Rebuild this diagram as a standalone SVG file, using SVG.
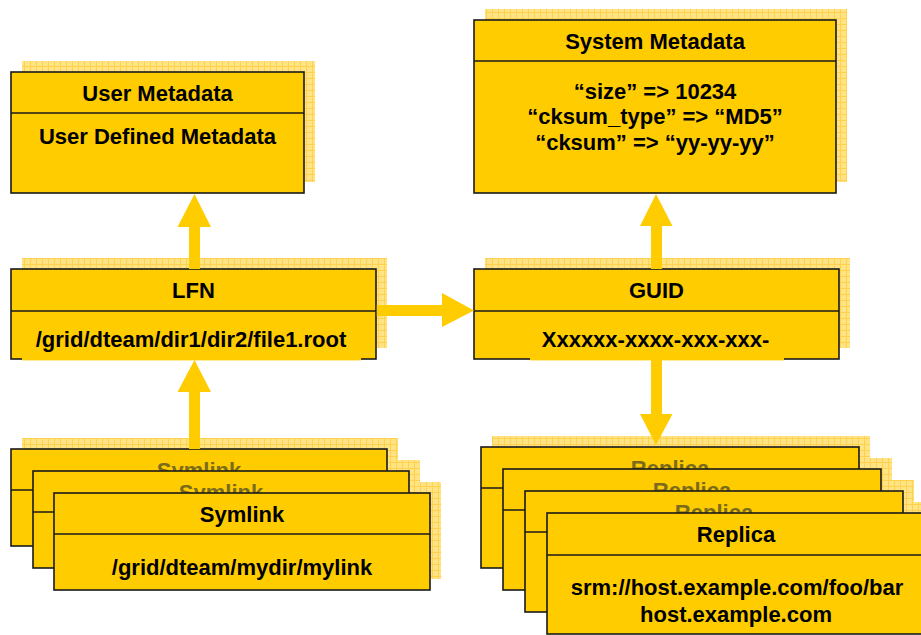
<svg xmlns="http://www.w3.org/2000/svg" width="921" height="635" viewBox="0 0 921 635">
<defs>
<pattern id="grid" width="6" height="6" patternUnits="userSpaceOnUse">
<rect width="6" height="6" fill="#FFE385"/>
<path d="M0 0.5H6M0.5 0V6" stroke="#FFD24D" stroke-width="1" fill="none"/>
</pattern>
<style>
.box{fill:#FFCC00;stroke:#1a1a1a;stroke-width:1.6}
.div{stroke:#1a1a1a;stroke-width:1.5}
.sh{fill:url(#grid)}
.t{font-family:"Liberation Sans",Arial,sans-serif;font-weight:bold;font-size:22px;text-anchor:middle;fill:#000}
.f{fill:#7b6b1c}
.arr{fill:#FFCC00}
.cov{fill:#FFCC00}
</style>
</defs>
<rect width="921" height="635" fill="#fff"/>

<g id="user-metadata">
<rect class="sh" x="22" y="61" width="293" height="121"/>
<rect class="box" x="11" y="72" width="293" height="121"/>
<line class="div" x1="11" y1="113" x2="304" y2="113"/>
<text class="t" x="157.5" y="101">User Metadata</text>
<text class="t" x="157.5" y="144">User Defined Metadata</text>
</g>

<g id="system-metadata">
<rect class="sh" x="485" y="9" width="362" height="173"/>
<rect class="box" x="474" y="20" width="362" height="173"/>
<line class="div" x1="474" y1="61" x2="836" y2="61"/>
<text class="t" x="655" y="49">System Metadata</text>
<text class="t" x="655" y="99">“size” =&gt; 10234</text>
<text class="t" x="655" y="124">“cksum_type” =&gt; “MD5”</text>
<text class="t" x="655" y="150">“cksum” =&gt; “yy-yy-yy”</text>
</g>

<g id="lfn">
<rect class="sh" x="22" y="258" width="365" height="90"/>
<rect class="box" x="11" y="269" width="365" height="90"/>
<line class="div" x1="11" y1="311" x2="376" y2="311"/>
<rect class="cov" x="22" y="357.8" width="339" height="2.6"/>
<text class="t" x="193.5" y="298">LFN</text>
<text class="t" x="191" y="347">/grid/dteam/dir1/dir2/file1.root</text>
</g>

<g id="guid">
<rect class="sh" x="485" y="258" width="365" height="90"/>
<rect class="box" x="474" y="269" width="365" height="90"/>
<line class="div" x1="474" y1="311" x2="839" y2="311"/>
<rect class="cov" x="530" y="357.8" width="254" height="2.6"/>
<text class="t" x="656.5" y="298">GUID</text>
<text class="t" x="655.5" y="347">Xxxxxx-xxxx-xxx-xxx-</text>
</g>

<g id="symlinks">
<rect class="sh" x="22" y="438" width="376" height="97"/>
<rect class="sh" x="44" y="460" width="376" height="97"/>
<rect class="sh" x="65" y="482" width="376" height="97"/>
<g id="symlink-1">
<rect class="box" x="11" y="449" width="376" height="97"/>
<line class="div" x1="11" y1="490" x2="387" y2="490"/>
<text class="t f" x="199" y="478">Symlink</text>
</g>
<g id="symlink-2">
<rect class="box" x="33" y="471" width="376" height="97"/>
<line class="div" x1="33" y1="512" x2="409" y2="512"/>
<text class="t f" x="221" y="500">Symlink</text>
</g>
<g id="symlink-3">
<rect class="box" x="54" y="493" width="376" height="97"/>
<line class="div" x1="54" y1="534" x2="430" y2="534"/>
<text class="t" x="242" y="522">Symlink</text>
<text class="t" x="242" y="575">/grid/dteam/mydir/mylink</text>
</g>
</g>

<g id="replicas">
<rect class="sh" x="492" y="436" width="378" height="121"/>
<rect class="sh" x="514" y="458" width="378" height="121"/>
<rect class="sh" x="536" y="480" width="378" height="121"/>
<rect class="sh" x="558" y="502" width="378" height="121"/>
<g id="replica-1">
<rect class="box" x="481" y="447" width="378" height="121"/>
<line class="div" x1="481" y1="488" x2="859" y2="488"/>
<text class="t f" x="670" y="476">Replica</text>
</g>
<g id="replica-2">
<rect class="box" x="503" y="469" width="378" height="121"/>
<line class="div" x1="503" y1="510" x2="881" y2="510"/>
<text class="t f" x="692" y="498">Replica</text>
</g>
<g id="replica-3">
<rect class="box" x="525" y="491" width="378" height="121"/>
<line class="div" x1="525" y1="532" x2="903" y2="532"/>
<text class="t f" x="714" y="520">Replica</text>
</g>
<g id="replica-4">
<rect class="box" x="547" y="513" width="378" height="121"/>
<line class="div" x1="547" y1="555" x2="925" y2="555"/>
<text class="t" x="736" y="542">Replica</text>
<text class="t" x="737" y="595">srm://host.example.com/foo/bar</text>
<text class="t" x="736" y="622">host.example.com</text>
</g>
</g>

<g id="connectors">
<polygon class="arr" points="189,269 189,227 177.5,227 194.5,194 211,227 200,227 200,269"/>
<polygon class="arr" points="189,449 189,392 177.5,392 194.5,360 211,392 200,392 200,449"/>
<polygon class="arr" points="651,269 651,226 640,226 656,194 672.5,226 662,226 662,269"/>
<polygon class="arr" points="651,360 651,414 640,414 656,445 672.5,414 662,414 662,360"/>
<polygon class="arr" points="376.8,305 442,305 442,293 474,310.5 442,327 442,316 376.8,316"/>
</g>
</svg>
